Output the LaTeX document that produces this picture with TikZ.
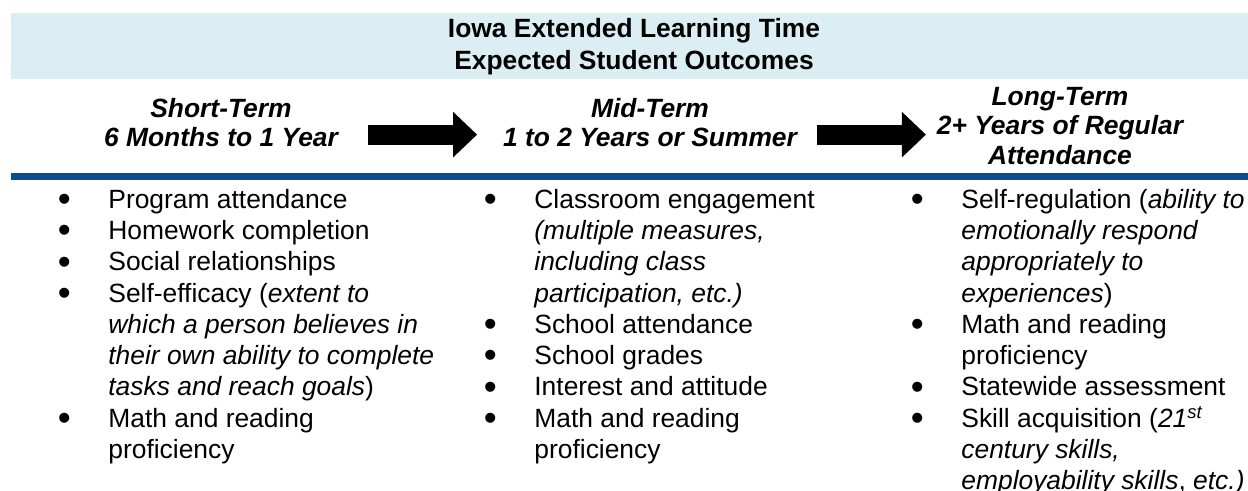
\documentclass[tikz,border=0pt]{standalone}
\usepackage{fontspec}
\setmainfont{Liberation Sans}
\usepackage{array}
\usetikzlibrary{arrows.meta}

\definecolor{bandblue}{RGB}{218,238,243}
\definecolor{ruleblue}{RGB}{16,75,140}

% list bullet, a bit heavier than the font's own
\newcommand{\lbul}{\smash{\raisebox{-0.12em}{\scalebox{1.4}{\textbullet}}}}

\tikzset{
    headtext/.style={inner sep=0pt, anchor=north, font=\fontsize{13.2}{16}\selectfont\bfseries},
    termtext/.style={inner sep=0pt, anchor=north, font=\fontsize{13.2}{14.75}\selectfont\bfseries\itshape},
    listtext/.style={inner sep=0pt, anchor=north west, font=\fontsize{13.2}{15.625}\selectfont},
    bigarrow/.style={-{Triangle[width=22pt,length=12pt]}, line width=10pt}
}

\begin{document}
\begin{tikzpicture}[x=0.5pt,y=-0.5pt]
    \useasboundingbox (0,0) rectangle (1248,491);
    % band behind the title, rule under the terms
    \fill[bandblue] (11,13) rectangle (1248,79);
    \fill[ruleblue] (11,173) rectangle (1248,180);

    \node[headtext] (title) at (634,14.6)
    {
        \begin{tabular}{@{}c@{}}
            Iowa Extended Learning Time \\
            Expected Student Outcomes
        \end{tabular}
    };

    \node[termtext] (short) at (221,96.35)
    {
        \begin{tabular}{@{}c@{}}
            Short-Term \\
            6 Months to 1 Year
        \end{tabular}
    };
    \node[termtext] (mid) at (650,96.35)
    {
        \begin{tabular}{@{}c@{}}
            Mid-Term \\
            1 to 2 Years or Summer
        \end{tabular}
    };
    \node[termtext] (long) at (1060,84.35)
    {
        \begin{tabular}{@{}c@{}}
            Long-Term \\
            2+ Years of Regular \\
            Attendance
        \end{tabular}
    };

    \coordinate (s) at ([yshift=-4.2pt]short.east);
    \coordinate (m) at ([yshift=-4.2pt]mid.east);
    \draw[bigarrow, shorten <=14.8pt, shorten >=12.75pt] (s) -- (s -| mid.west);
    \draw[bigarrow, shorten <=9.75pt, shorten >=5.25pt] (m) -- (m -| long.west);

    \node[listtext] (shortlist) at (42,186.1)
    {
        \begin{tabular}{@{}w{c}{22pt}@{\hspace{11pt}}l@{}}
            \lbul & Program attendance \\
            \lbul & Homework completion \\
            \lbul & Social relationships \\
            \lbul & Self-efficacy (\textit{extent to} \\
                  & \textit{which a person believes in} \\
                  & \textit{their own ability to complete} \\
                  & \textit{tasks and reach goals}) \\
            \lbul & Math and reading \\
                  & proficiency
        \end{tabular}
    };
    \node[listtext] (midlist) at (468,186.1)
    {
        \begin{tabular}{@{}w{c}{22pt}@{\hspace{11pt}}l@{}}
            \lbul & Classroom engagement \\
                  & \textit{(multiple measures,} \\
                  & \textit{including class} \\
                  & \textit{participation, etc.)} \\
            \lbul & School attendance \\
            \lbul & School grades \\
            \lbul & Interest and attitude \\
            \lbul & Math and reading \\
                  & proficiency
        \end{tabular}
    };
    \node[listtext] (longlist) at (895,186.1)
    {
        \begin{tabular}{@{}w{c}{22pt}@{\hspace{11pt}}l@{}}
            \lbul & Self-regulation (\textit{ability to} \\
                  & \textit{emotionally respond} \\
                  & \textit{appropriately to} \\
                  & \textit{experiences}) \\
            \lbul & Math and reading \\
                  & proficiency \\
            \lbul & Statewide assessment \\
            \lbul & Skill acquisition (\textit{21\smash{\textsuperscript{st}}} \\
                  & \textit{century skills,} \\
                  & \textit{employability skills}, \textit{etc.)}
        \end{tabular}
    };
\end{tikzpicture}
\end{document}
